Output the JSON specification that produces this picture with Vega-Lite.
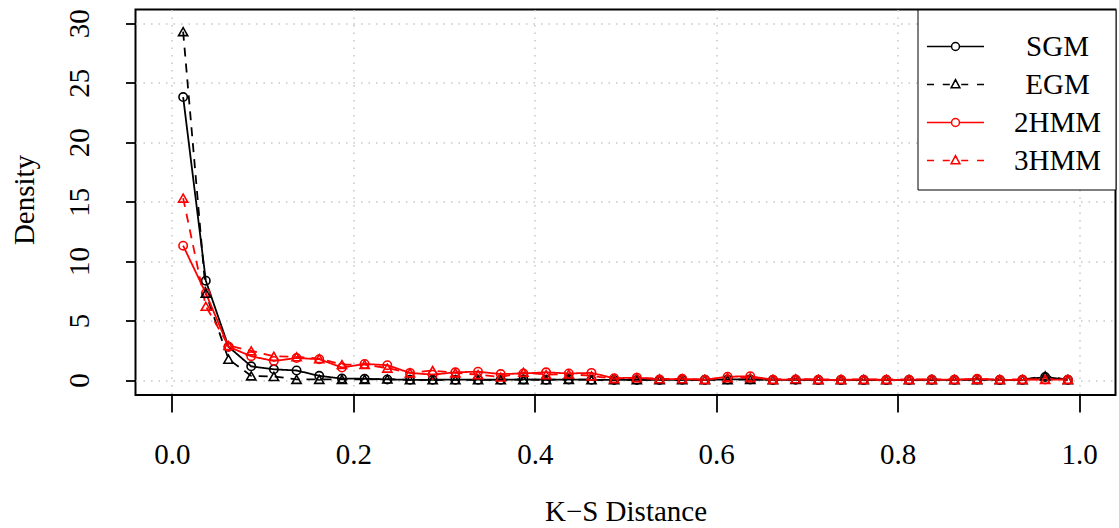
{
  "$schema": "https://vega.github.io/schema/vega-lite/v6.json",
  "width": 980,
  "height": 385.5,
  "autosize": {"type": "none"},
  "padding": {"left": 135.5, "top": 9.5, "right": 3.5, "bottom": 133},
  "background": "white",
  "config": {
    "view": {"stroke": "black", "strokeWidth": 2},
    "font": "Liberation Serif",
    "text": {"font": "Liberation Serif"},
    "axis": {
      "domain": false,
      "tickColor": "black",
      "tickWidth": 1.8,
      "labelFont": "Liberation Serif",
      "labelFontSize": 29,
      "labelColor": "black",
      "labelFlush": false,
      "labelOverlap": false,
      "titleFont": "Liberation Serif",
      "titleFontSize": 29,
      "titleFontWeight": "normal",
      "titleColor": "black",
      "grid": true,
      "gridDash": [1.5, 6],
      "gridColor": "#c8c8c8",
      "gridWidth": 1.5
    },
    "legend": {
      "orient": "top-right",
      "offset": 0,
      "padding": 14,
      "fillColor": "white",
      "strokeColor": "black",
      "symbolSize": 1927,
      "symbolOffset": 1,
      "symbolStrokeWidth": 1.5,
      "labelFont": "Liberation Serif",
      "labelFontSize": 29,
      "labelColor": "black",
      "labelAlign": "center",
      "labelOffset": 79,
      "rowPadding": 0
    }
  },
  "data": {
    "values": [
      {"x": 0.0125, "SGM": 23.8, "EGM": 29.3, "2HMM": 11.3, "3HMM": 15.3},
      {"x": 0.0375, "SGM": 8.35, "EGM": 7.3, "2HMM": 7.3, "3HMM": 6.2},
      {"x": 0.0625, "SGM": 2.8, "EGM": 1.75, "2HMM": 2.8, "3HMM": 2.9},
      {"x": 0.0875, "SGM": 1.15, "EGM": 0.35, "2HMM": 2.0, "3HMM": 2.45},
      {"x": 0.1125, "SGM": 0.9, "EGM": 0.3, "2HMM": 1.6, "3HMM": 2.0},
      {"x": 0.1375, "SGM": 0.8, "EGM": 0.05, "2HMM": 1.85, "3HMM": 1.95},
      {"x": 0.1625, "SGM": 0.35, "EGM": 0.05, "2HMM": 1.75, "3HMM": 1.8},
      {"x": 0.1875, "SGM": 0.12, "EGM": 0.05, "2HMM": 1.05, "3HMM": 1.3},
      {"x": 0.2125, "SGM": 0.1, "EGM": 0.05, "2HMM": 1.35, "3HMM": 1.3},
      {"x": 0.2375, "SGM": 0.05, "EGM": 0.08, "2HMM": 1.25, "3HMM": 1.0},
      {"x": 0.2625, "SGM": 0.02, "EGM": 0.02, "2HMM": 0.6, "3HMM": 0.6},
      {"x": 0.2875, "SGM": 0.02, "EGM": 0.02, "2HMM": 0.45, "3HMM": 0.8},
      {"x": 0.3125, "SGM": 0.03, "EGM": 0.02, "2HMM": 0.65, "3HMM": 0.6},
      {"x": 0.3375, "SGM": 0.03, "EGM": 0.02, "2HMM": 0.7, "3HMM": 0.45},
      {"x": 0.3625, "SGM": 0.02, "EGM": 0.02, "2HMM": 0.5, "3HMM": 0.25},
      {"x": 0.3875, "SGM": 0.05, "EGM": 0.03, "2HMM": 0.55, "3HMM": 0.65},
      {"x": 0.4125, "SGM": 0.02, "EGM": 0.02, "2HMM": 0.65, "3HMM": 0.45},
      {"x": 0.4375, "SGM": 0.05, "EGM": 0.05, "2HMM": 0.55, "3HMM": 0.5},
      {"x": 0.4625, "SGM": 0.02, "EGM": 0.02, "2HMM": 0.6, "3HMM": 0.35},
      {"x": 0.4875, "SGM": 0.01, "EGM": 0.02, "2HMM": 0.15, "3HMM": 0.1},
      {"x": 0.5125, "SGM": 0.01, "EGM": 0.02, "2HMM": 0.2, "3HMM": 0.2},
      {"x": 0.5375, "SGM": 0.01, "EGM": 0.02, "2HMM": 0.05, "3HMM": 0.1},
      {"x": 0.5625, "SGM": 0.02, "EGM": 0.02, "2HMM": 0.1, "3HMM": 0.1},
      {"x": 0.5875, "SGM": 0.02, "EGM": 0.02, "2HMM": 0.02, "3HMM": 0.05},
      {"x": 0.6125, "SGM": 0.05, "EGM": 0.02, "2HMM": 0.28, "3HMM": 0.2},
      {"x": 0.6375, "SGM": 0.05, "EGM": 0.05, "2HMM": 0.32, "3HMM": 0.2},
      {"x": 0.6625, "SGM": 0.01, "EGM": 0.02, "2HMM": 0.02, "3HMM": 0.05},
      {"x": 0.6875, "SGM": 0.02, "EGM": 0.05, "2HMM": 0.05, "3HMM": 0.1},
      {"x": 0.7125, "SGM": 0.01, "EGM": 0.02, "2HMM": 0.02, "3HMM": 0.05},
      {"x": 0.7375, "SGM": 0.01, "EGM": 0.02, "2HMM": 0.02, "3HMM": 0.05},
      {"x": 0.7625, "SGM": 0.01, "EGM": 0.02, "2HMM": 0.03, "3HMM": 0.05},
      {"x": 0.7875, "SGM": 0.01, "EGM": 0.02, "2HMM": 0.02, "3HMM": 0.05},
      {"x": 0.8125, "SGM": 0.01, "EGM": 0.02, "2HMM": 0.02, "3HMM": 0.05},
      {"x": 0.8375, "SGM": 0.02, "EGM": 0.02, "2HMM": 0.05, "3HMM": 0.05},
      {"x": 0.8625, "SGM": 0.02, "EGM": 0.02, "2HMM": 0.02, "3HMM": 0.05},
      {"x": 0.8875, "SGM": 0.05, "EGM": 0.02, "2HMM": 0.1, "3HMM": 0.05},
      {"x": 0.9125, "SGM": 0.01, "EGM": 0.02, "2HMM": 0.02, "3HMM": 0.05},
      {"x": 0.9375, "SGM": 0.02, "EGM": 0.02, "2HMM": 0.02, "3HMM": 0.05},
      {"x": 0.9625, "SGM": 0.25, "EGM": 0.35, "2HMM": 0.05, "3HMM": 0.05},
      {"x": 0.9875, "SGM": 0.02, "EGM": 0.02, "2HMM": 0.02, "3HMM": 0.05}
    ]
  },
  "transform": [{"fold": ["SGM", "EGM", "2HMM", "3HMM"], "as": ["series", "density"]}],
  "resolve": {"scale": {"color": "independent", "shape": "independent", "strokeDash": "independent"}},
  "layer": [
    {
      "mark": {"type": "line", "strokeWidth": 1.8, "clip": true},
      "encoding": {
        "x": {"field": "x", "type": "quantitative", "scale": {"domain": [-0.04, 1.04], "nice": false, "zero": false},
          "axis": {"values": [0, 0.2, 0.4, 0.6, 0.8, 1], "format": ".1f", "title": "K−S Distance", "labelFont": "Liberation Serif", "titleFont": "Liberation Serif", "tickSize": 17, "labelPadding": 51, "labelBaseline": "alphabetic", "titleBaseline": "alphabetic", "titleY": 125.7}},
        "y": {"field": "density", "type": "quantitative", "scale": {"domain": [-1.26, 31.16], "nice": false, "zero": false},
          "axis": {"values": [0, 5, 10, 15, 20, 25, 30], "title": "Density", "labelFont": "Liberation Serif", "titleFont": "Liberation Serif", "tickSize": 10, "labelAngle": -90, "labelAlign": "center", "labelBaseline": "alphabetic", "labelPadding": 37.5, "titleAngle": -90, "titleAlign": "center", "titleBaseline": "alphabetic", "titleX": -102.5, "titleY": 190}},
        "color": {"field": "series", "type": "nominal", "scale": {"domain": ["SGM", "EGM", "2HMM", "3HMM"], "range": ["#000000", "#000000", "#ff0000", "#ff0000"]}, "legend": null},
        "strokeDash": {"field": "series", "type": "nominal", "scale": {"domain": ["SGM", "EGM", "2HMM", "3HMM"], "range": [[1, 0], [9, 7], [1, 0], [9, 7]]}, "legend": null}
      }
    },
    {
      "transform": [{"filter": "datum.series == 'SGM' || datum.series == '2HMM'"}],
      "mark": {"type": "point", "shape": "circle", "filled": false, "size": 70, "strokeWidth": 1.6, "opacity": 1, "clip": true},
      "encoding": {
        "x": {"field": "x", "type": "quantitative"},
        "y": {"field": "density", "type": "quantitative"},
        "color": {"field": "series", "type": "nominal", "scale": {"domain": ["SGM", "EGM", "2HMM", "3HMM"], "range": ["#000000", "#000000", "#ff0000", "#ff0000"]}, "legend": null}
      }
    },
    {
      "transform": [{"filter": "datum.series == 'EGM' || datum.series == '3HMM'"}],
      "mark": {"type": "point", "shape": "triangle-up", "filled": false, "size": 85, "strokeWidth": 1.6, "opacity": 1, "clip": true},
      "encoding": {
        "x": {"field": "x", "type": "quantitative"},
        "y": {"field": "density", "type": "quantitative"},
        "color": {"field": "series", "type": "nominal", "scale": {"domain": ["SGM", "EGM", "2HMM", "3HMM"], "range": ["#000000", "#000000", "#ff0000", "#ff0000"]}, "legend": null}
      }
    },
    {
      "data": {"values": []},
      "mark": {"type": "point", "filled": false, "opacity": 1, "strokeWidth": 1.5},
      "encoding": {
        "color": {"field": "series", "type": "nominal", "scale": {"domain": ["SGM", "EGM", "2HMM", "3HMM"], "range": ["#000000", "#000000", "#ff0000", "#ff0000"]}, "legend": {"title": null}},
        "shape": {"field": "series", "type": "nominal", "scale": {"domain": ["SGM", "EGM", "2HMM", "3HMM"], "range": [
          "M-1.3,0H-0.18M0.18,0H1.3M0.18,0A0.18,0.18,0,1,1,-0.18,0A0.18,0.18,0,1,1,0.18,0",
          "M-1.3,0H-0.98M-0.58,0H-0.26M0.26,0H0.58M0.98,0H1.3M0,-0.22L0.2,0.15L-0.2,0.15Z",
          "M-1.3,0H-0.18M0.18,0H1.3M0.18,0A0.18,0.18,0,1,1,-0.18,0A0.18,0.18,0,1,1,0.18,0",
          "M-1.3,0H-0.98M-0.58,0H-0.26M0.26,0H0.58M0.98,0H1.3M0,-0.22L0.2,0.15L-0.2,0.15Z"
        ]}, "legend": {"title": null}}
      }
    }
  ]
}
